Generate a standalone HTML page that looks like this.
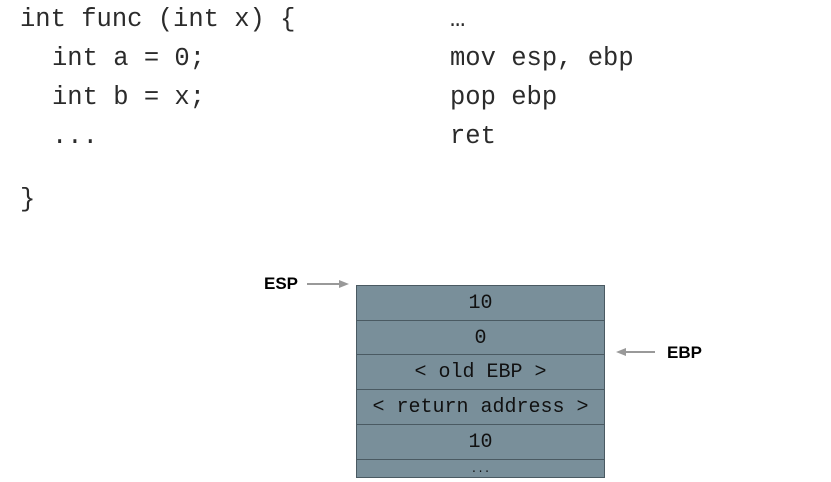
<!DOCTYPE html>
<html><head><style>
body{margin:0;width:831px;height:482px;background:#fff;position:relative;overflow:hidden;font-family:"Liberation Mono","DejaVu Sans Mono",monospace;color:#2b2b2b}
.c{position:absolute;font-size:25.5px;line-height:30px;white-space:pre}
.box{position:absolute;left:356px;width:249px;background:#798f9a;border:1px solid #4a5a62;box-sizing:border-box;font-size:20px;text-align:center;color:#111}
.lbl{position:absolute;font-family:"Liberation Sans",sans-serif;font-weight:bold;font-size:17px;color:#000}
</style></head><body>
<div class="c" style="left:20px;top:5px">int func (int x) {</div>
<div class="c" style="left:52px;top:44px">int a = 0;</div>
<div class="c" style="left:52px;top:83px">int b = x;</div>
<div class="c" style="left:52px;top:122px">...</div>
<div class="c" style="left:20px;top:185px">}</div>
<div class="c" style="left:450px;top:5px">…</div>
<div class="c" style="left:450px;top:44px">mov esp, ebp</div>
<div class="c" style="left:450px;top:83px">pop ebp</div>
<div class="c" style="left:450px;top:122px">ret</div>

<div class="box" style="top:285px;height:36px;line-height:36px">10</div>
<div class="box" style="top:320px;height:35px;line-height:35px">0</div>
<div class="box" style="top:354px;height:36px;line-height:36px">&lt; old EBP &gt;</div>
<div class="box" style="top:389px;height:36px;line-height:36px">&lt; return address &gt;</div>
<div class="box" style="top:424px;height:36px;line-height:36px">10</div>
<div class="box" style="top:459px;height:19px;line-height:20px;font-size:11px">...</div>

<div class="lbl" style="left:264px;top:274px">ESP</div>
<div class="lbl" style="left:667px;top:343px">EBP</div>
<svg style="position:absolute;left:0;top:0" width="831" height="482">
<line x1="307" y1="284" x2="343" y2="284" stroke="#999" stroke-width="2"/>
<polygon points="349,284 339,280 339,288" fill="#999"/>
<line x1="655" y1="352" x2="622" y2="352" stroke="#999" stroke-width="2"/>
<polygon points="616,352 626,348 626,356" fill="#999"/>
</svg>
</body></html>
